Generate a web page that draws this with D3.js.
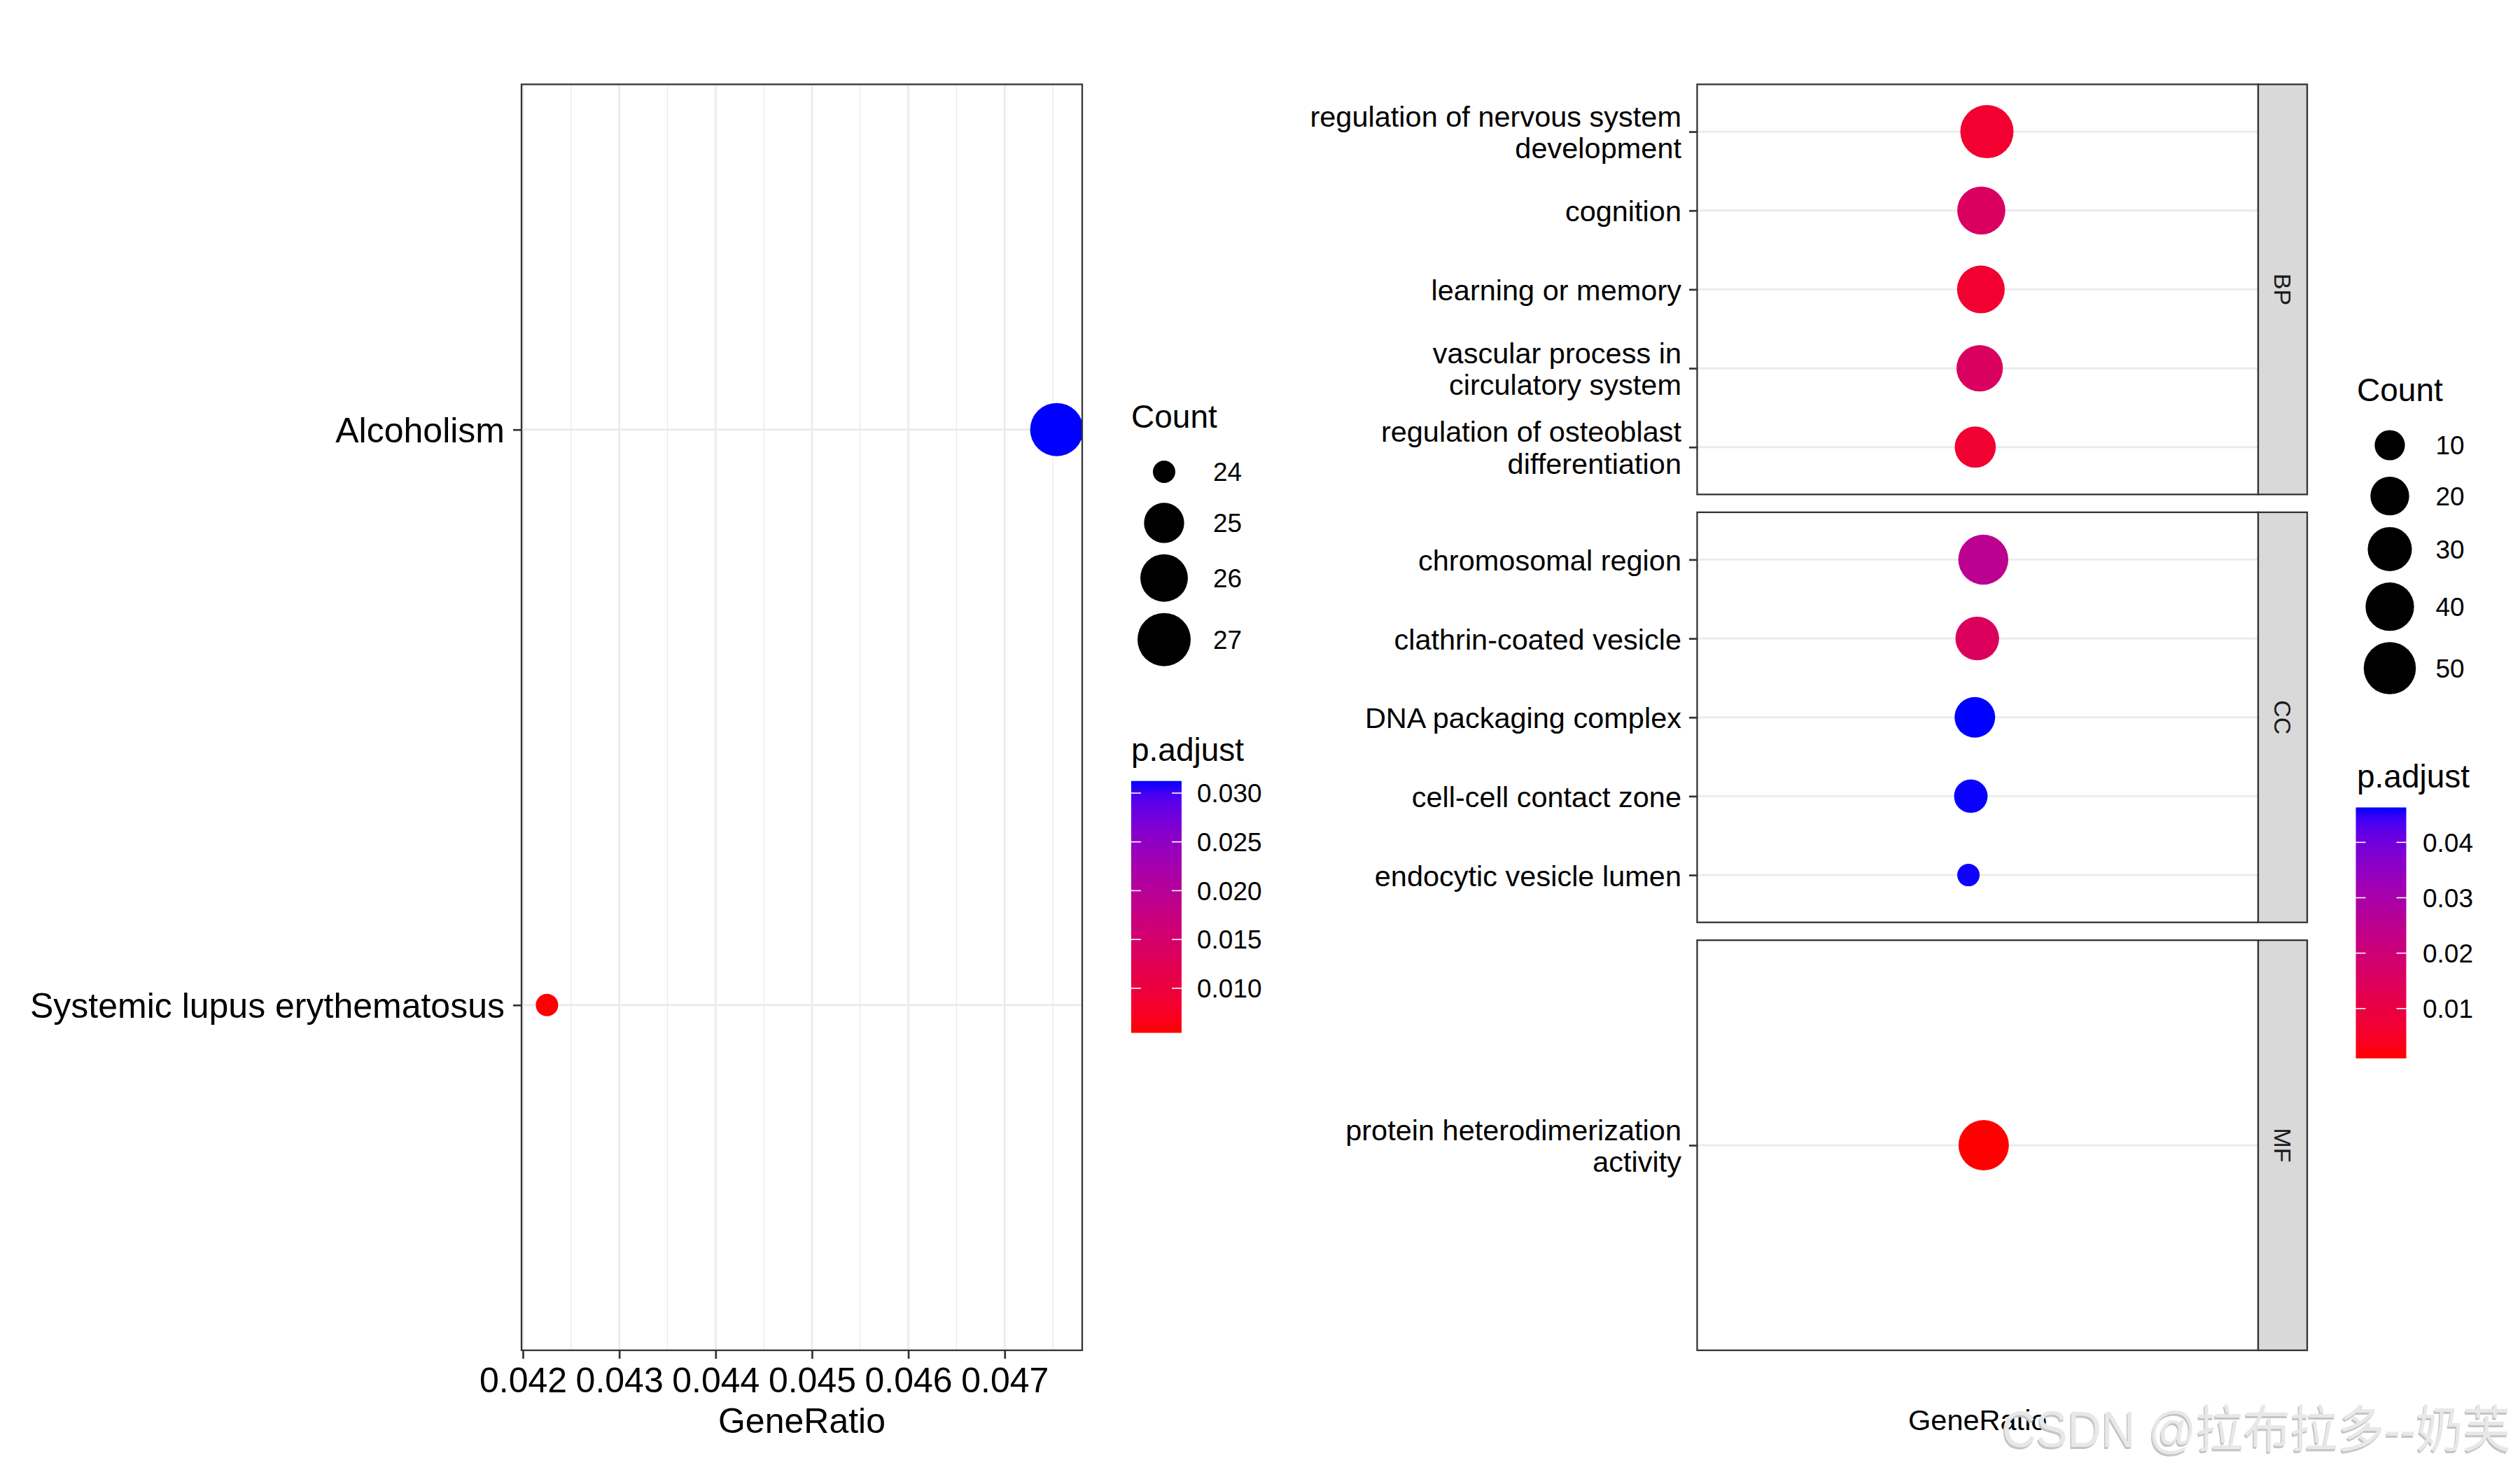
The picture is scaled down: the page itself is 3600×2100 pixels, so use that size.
<!DOCTYPE html>
<html>
<head>
<meta charset="utf-8">
<script src="https://cdn.jsdelivr.net/npm/d3@7"></script>
<style>
  html, body { margin: 0; padding: 0; background: #fff; }
  svg { display: block; font-family: "Liberation Sans", Arial, sans-serif; }
</style>
</head>
<body>
<div id="chart"></div>
<script>
// ---- left plot: KEGG ----
const keggTerms = ['Alcoholism', 'Systemic lupus erythematosus'];
const keggGeneRatio = [0.04754, 0.04225];
const keggCount = [27, 24];
const keggPadj = [0.03124, 0.00543];
const keggXTicks = [0.042, 0.043, 0.044, 0.045, 0.046, 0.047];
const keggCountBreaks = [24, 25, 26, 27];
const keggPadjBreaks = [0.010, 0.015, 0.020, 0.025, 0.030];

// ---- right plot: GO, faceted by ontology ----
const goOntologies = ['BP', 'CC', 'MF'];
const goOntology = ['BP', 'BP', 'BP', 'BP', 'BP', 'CC', 'CC', 'CC', 'CC', 'CC', 'MF'];
const goTerms = [
    'regulation of nervous system development',
    'cognition',
    'learning or memory',
    'vascular process in circulatory system',
    'regulation of osteoblast differentiation',
    'chromosomal region',
    'clathrin-coated vesicle',
    'DNA packaging complex',
    'cell-cell contact zone',
    'endocytic vesicle lumen',
    'protein heterodimerization activity'
];
const goGeneRatio = [0.053, 0.039, 0.038, 0.035, 0.024, 0.044, 0.029, 0.023, 0.013, 0.007, 0.045];
const goCount = [53, 39, 38, 35, 24, 44, 29, 23, 13, 7, 45];
const goPadj = [0.0064, 0.0160, 0.0065, 0.0155, 0.0069, 0.0250, 0.0150, 0.0463, 0.0462, 0.0461, 0.0010];
const goXDomain = [-0.668, 0.728];   // axis limits, no breaks shown
const goCountBreaks = [10, 20, 30, 40, 50];
const goPadjBreaks = [0.01, 0.02, 0.03, 0.04];

const W = 3600, H = 2100;
const svg = d3.select('#chart').append('svg').attr('width', W).attr('height', H);
svg.append('rect').attr('width', W).attr('height', H).attr('fill', '#fff');

const GRID = '#EBEBEB', BORDER = '#333333';

function sizeScale(counts) {
    const t = d3.scaleLinear().domain(d3.extent(counts)).range([0, 1]).clamp(true);
    const r = d3.scaleLinear().domain([0, 1]).range([16, 38]);
    return v => r(Math.sqrt(t(v)));
}
function colorScale(padj) {
    return d3.scaleLinear().domain(d3.extent(padj)).range(['red', 'blue']).interpolate(d3.interpolateLab);
}
function wrap(s, width) {
    const lines = [];
    let cur = '';
    s.split(' ').forEach(w => {
        if (cur && (cur + ' ' + w).length > width) { lines.push(cur); cur = w; }
        else cur = cur ? cur + ' ' + w : w;
    });
    lines.push(cur);
    return lines;
}
function styleAxis(g, fontSize) {
    g.select('.domain').remove();
    g.selectAll('.tick line').attr('stroke', BORDER).attr('stroke-width', 2.7);
    g.selectAll('.tick text').attr('fill', '#000').attr('font-size', fontSize)
        .attr('font-family', '"Liberation Sans", Arial, sans-serif');
}

// legends
function drawLegends(o) {
    const lg = svg.append('g');
    lg.append('text').attr('x', o.x).attr('y', o.countTitleY).attr('font-size', 46).text('Count');
    let y = o.countTitleY + 63 - Math.max(72.6, 2 * o.size(o.countBreaks[0]) + 16) / 2;
    o.countBreaks.forEach(b => {
        const h = Math.max(72.6, 2 * o.size(b) + 16);
        const cy = y + h / 2;
        lg.append('circle').attr('cx', o.x + 47).attr('cy', cy).attr('r', o.size(b)).attr('fill', '#000');
        lg.append('text').attr('x', o.labelX).attr('y', cy).attr('dy', '0.36em').attr('font-size', 37).text(b);
        y += h;
    });

    lg.append('text').attr('x', o.x).attr('y', o.padjTitleY).attr('font-size', 46).text('p.adjust');
    const [lo, hi] = o.color.domain();
    const bar = d3.scaleLinear().domain([lo, hi]).range([o.barBottom, o.barTop]);
    const gid = 'grad-' + o.id;
    const grad = svg.append('defs').append('linearGradient').attr('id', gid)
        .attr('x1', 0).attr('y1', 1).attr('x2', 0).attr('y2', 0);
    d3.range(0, 1.0001, 0.05).forEach(t => {
        grad.append('stop').attr('offset', t).attr('stop-color', o.color(lo + t * (hi - lo)));
    });
    lg.append('rect').attr('x', o.barX).attr('y', o.barTop).attr('width', 72)
        .attr('height', o.barBottom - o.barTop).attr('fill', `url(#${gid})`);
    o.padjBreaks.forEach(b => {
        const yy = bar(b);
        lg.append('line').attr('x1', o.barX).attr('x2', o.barX + 14).attr('y1', yy).attr('y2', yy)
            .attr('stroke', '#fff').attr('stroke-width', 1.6);
        lg.append('line').attr('x1', o.barX + 58).attr('x2', o.barX + 72).attr('y1', yy).attr('y2', yy)
            .attr('stroke', '#fff').attr('stroke-width', 1.6);
        lg.append('text').attr('x', o.barLabelX).attr('y', yy).attr('dy', '0.36em')
            .attr('font-size', 37).text(o.fmt(b));
    });
}

// ---------------- left plot ----------------
(function() {
    const x0 = 745, x1 = 1546, y0 = 120.5, y1 = 1929;
    const ext = d3.extent(keggGeneRatio);
    const pad = (ext[1] - ext[0]) * 0.05;
    const x = d3.scaleLinear().domain([ext[0] - pad, ext[1] + pad]).range([x0, x1]);
    const y = d3.scalePoint().domain(keggTerms).range([y0, y1]).padding(0.6);
    const size = sizeScale(keggCount);
    const color = colorScale(keggPadj);

    const g = svg.append('g');
    g.append('clipPath').attr('id', 'clip-kegg').append('rect')
        .attr('x', x0).attr('y', y0).attr('width', x1 - x0).attr('height', y1 - y0);

    const minor = d3.pairs(keggXTicks).map(p => (p[0] + p[1]) / 2)
        .concat([keggXTicks[keggXTicks.length - 1] + 0.0005]);
    g.selectAll('.minor').data(minor).join('line')
        .attr('x1', d => x(d)).attr('x2', d => x(d)).attr('y1', y0).attr('y2', y1)
        .attr('stroke', GRID).attr('stroke-width', 1.4);
    g.selectAll('.vmajor').data(keggXTicks).join('line')
        .attr('x1', d => x(d)).attr('x2', d => x(d)).attr('y1', y0).attr('y2', y1)
        .attr('stroke', GRID).attr('stroke-width', 2.8);
    g.selectAll('.hmajor').data(keggTerms).join('line')
        .attr('x1', x0).attr('x2', x1).attr('y1', d => y(d)).attr('y2', d => y(d))
        .attr('stroke', GRID).attr('stroke-width', 2.8);

    g.append('g').attr('clip-path', 'url(#clip-kegg)')
        .selectAll('circle').data(keggTerms).join('circle')
        .attr('cx', (d, i) => x(keggGeneRatio[i])).attr('cy', d => y(d))
        .attr('r', (d, i) => size(keggCount[i])).attr('fill', (d, i) => color(keggPadj[i]));

    g.append('rect').attr('x', x0).attr('y', y0).attr('width', x1 - x0).attr('height', y1 - y0)
        .attr('fill', 'none').attr('stroke', BORDER).attr('stroke-width', 2.3);

    const ax = g.append('g').attr('transform', `translate(0,${y1})`)
        .call(d3.axisBottom(x).tickValues(keggXTicks).tickFormat(d3.format('.3f')).tickSize(12).tickPadding(12));
    styleAxis(ax, 50);
    const ay = g.append('g').attr('transform', `translate(${x0},0)`)
        .call(d3.axisLeft(y).tickSize(12).tickPadding(12));
    styleAxis(ay, 50);
    ay.selectAll('.tick text').attr('dy', '0.36em');

    g.append('text').attr('x', (x0 + x1) / 2).attr('y', 2047).attr('text-anchor', 'middle')
        .attr('font-size', 50).text('GeneRatio');

    drawLegends({
        id: 'kegg', x: 1616, labelX: 1733, countTitleY: 611, countBreaks: keggCountBreaks, size: size,
        padjTitleY: 1087, barX: 1616, barTop: 1115.7, barBottom: 1475.5, barLabelX: 1710,
        padjBreaks: keggPadjBreaks, color: color, fmt: d3.format('.3f')
    });
})();

// ---------------- right plot ----------------
(function() {
    const x0 = 2424.5, x1 = 3226, stripW = 70, top = 120.5, bottom = 1929, gap = 25.5;
    const ph = (bottom - top - gap * (goOntologies.length - 1)) / goOntologies.length;
    const x = d3.scaleLinear().domain(goXDomain).range([x0, x1]);
    const size = sizeScale(goCount);
    const color = colorScale(goPadj);
    const idx = d3.range(goTerms.length);

    goOntologies.forEach((ont, k) => {
        const py0 = top + k * (ph + gap), py1 = py0 + ph;
        const rows = idx.filter(i => goOntology[i] === ont);
        const y = d3.scalePoint().domain(rows.map(i => goTerms[i])).range([py0, py1]).padding(0.6);
        const g = svg.append('g');
        g.append('clipPath').attr('id', 'clip-go-' + ont).append('rect')
            .attr('x', x0).attr('y', py0).attr('width', x1 - x0).attr('height', ph);

        g.selectAll('.hmajor').data(rows).join('line')
            .attr('x1', x0).attr('x2', x1).attr('y1', i => y(goTerms[i])).attr('y2', i => y(goTerms[i]))
            .attr('stroke', GRID).attr('stroke-width', 2.8);

        g.append('g').attr('clip-path', `url(#clip-go-${ont})`)
            .selectAll('circle').data(rows).join('circle')
            .attr('cx', i => x(goGeneRatio[i])).attr('cy', i => y(goTerms[i]))
            .attr('r', i => size(goCount[i])).attr('fill', i => color(goPadj[i]));

        g.append('rect').attr('x', x0).attr('y', py0).attr('width', x1 - x0).attr('height', ph)
            .attr('fill', 'none').attr('stroke', BORDER).attr('stroke-width', 2.3);

        // strip
        g.append('rect').attr('x', x1).attr('y', py0).attr('width', stripW).attr('height', ph)
            .attr('fill', '#D9D9D9').attr('stroke', BORDER).attr('stroke-width', 2.3);
        g.append('text').attr('transform', `translate(${x1 + stripW / 2},${(py0 + py1) / 2}) rotate(90)`)
            .attr('text-anchor', 'middle').attr('dy', '0.36em').attr('font-size', 34)
            .attr('fill', '#1A1A1A').text(ont);

        const ay = g.append('g').attr('transform', `translate(${x0},0)`)
            .call(d3.axisLeft(y).tickSize(11.5).tickPadding(11));
        styleAxis(ay, 41.5);
        ay.selectAll('.tick text').each(function(d) {
            const lines = wrap(d, 30);
            const t = d3.select(this).text(null).attr('dy', null);
            lines.forEach((ln, j) => {
                t.append('tspan').attr('x', -22.5)
                    .attr('dy', j === 0 ? (0.36 - (lines.length - 1) * 0.55) + 'em' : '1.1em')
                    .text(ln);
            });
        });
    });

    svg.append('text').attr('x', (x0 + x1) / 2).attr('y', 2043).attr('text-anchor', 'middle')
        .attr('font-size', 41.5).text('GeneRatio');

    drawLegends({
        id: 'go', x: 3367, labelX: 3479.5, countTitleY: 573, countBreaks: goCountBreaks, size: size,
        padjTitleY: 1125, barX: 3365.5, barTop: 1153.5, barBottom: 1512, barLabelX: 3461,
        padjBreaks: goPadjBreaks, color: color, fmt: d3.format('.2f')
    });
})();

// watermark
const wm = 'CSDN @拉布拉多--奶芙';
[['#C4C4C4', -1.5, 2.5], ['#E8E8E8', 0, 0]].forEach(([c, dx, dy]) => {
    svg.append('text').attr('x', 2860 + dx).attr('y', 2067 + dy)
        .attr('font-family', '"Liberation Sans", "Noto Sans CJK SC", sans-serif')
        .attr('font-size', 72).attr('textLength', 726).attr('lengthAdjust', 'spacingAndGlyphs')
        .attr('fill', c).text(wm);
});
</script>
</body>
</html>
